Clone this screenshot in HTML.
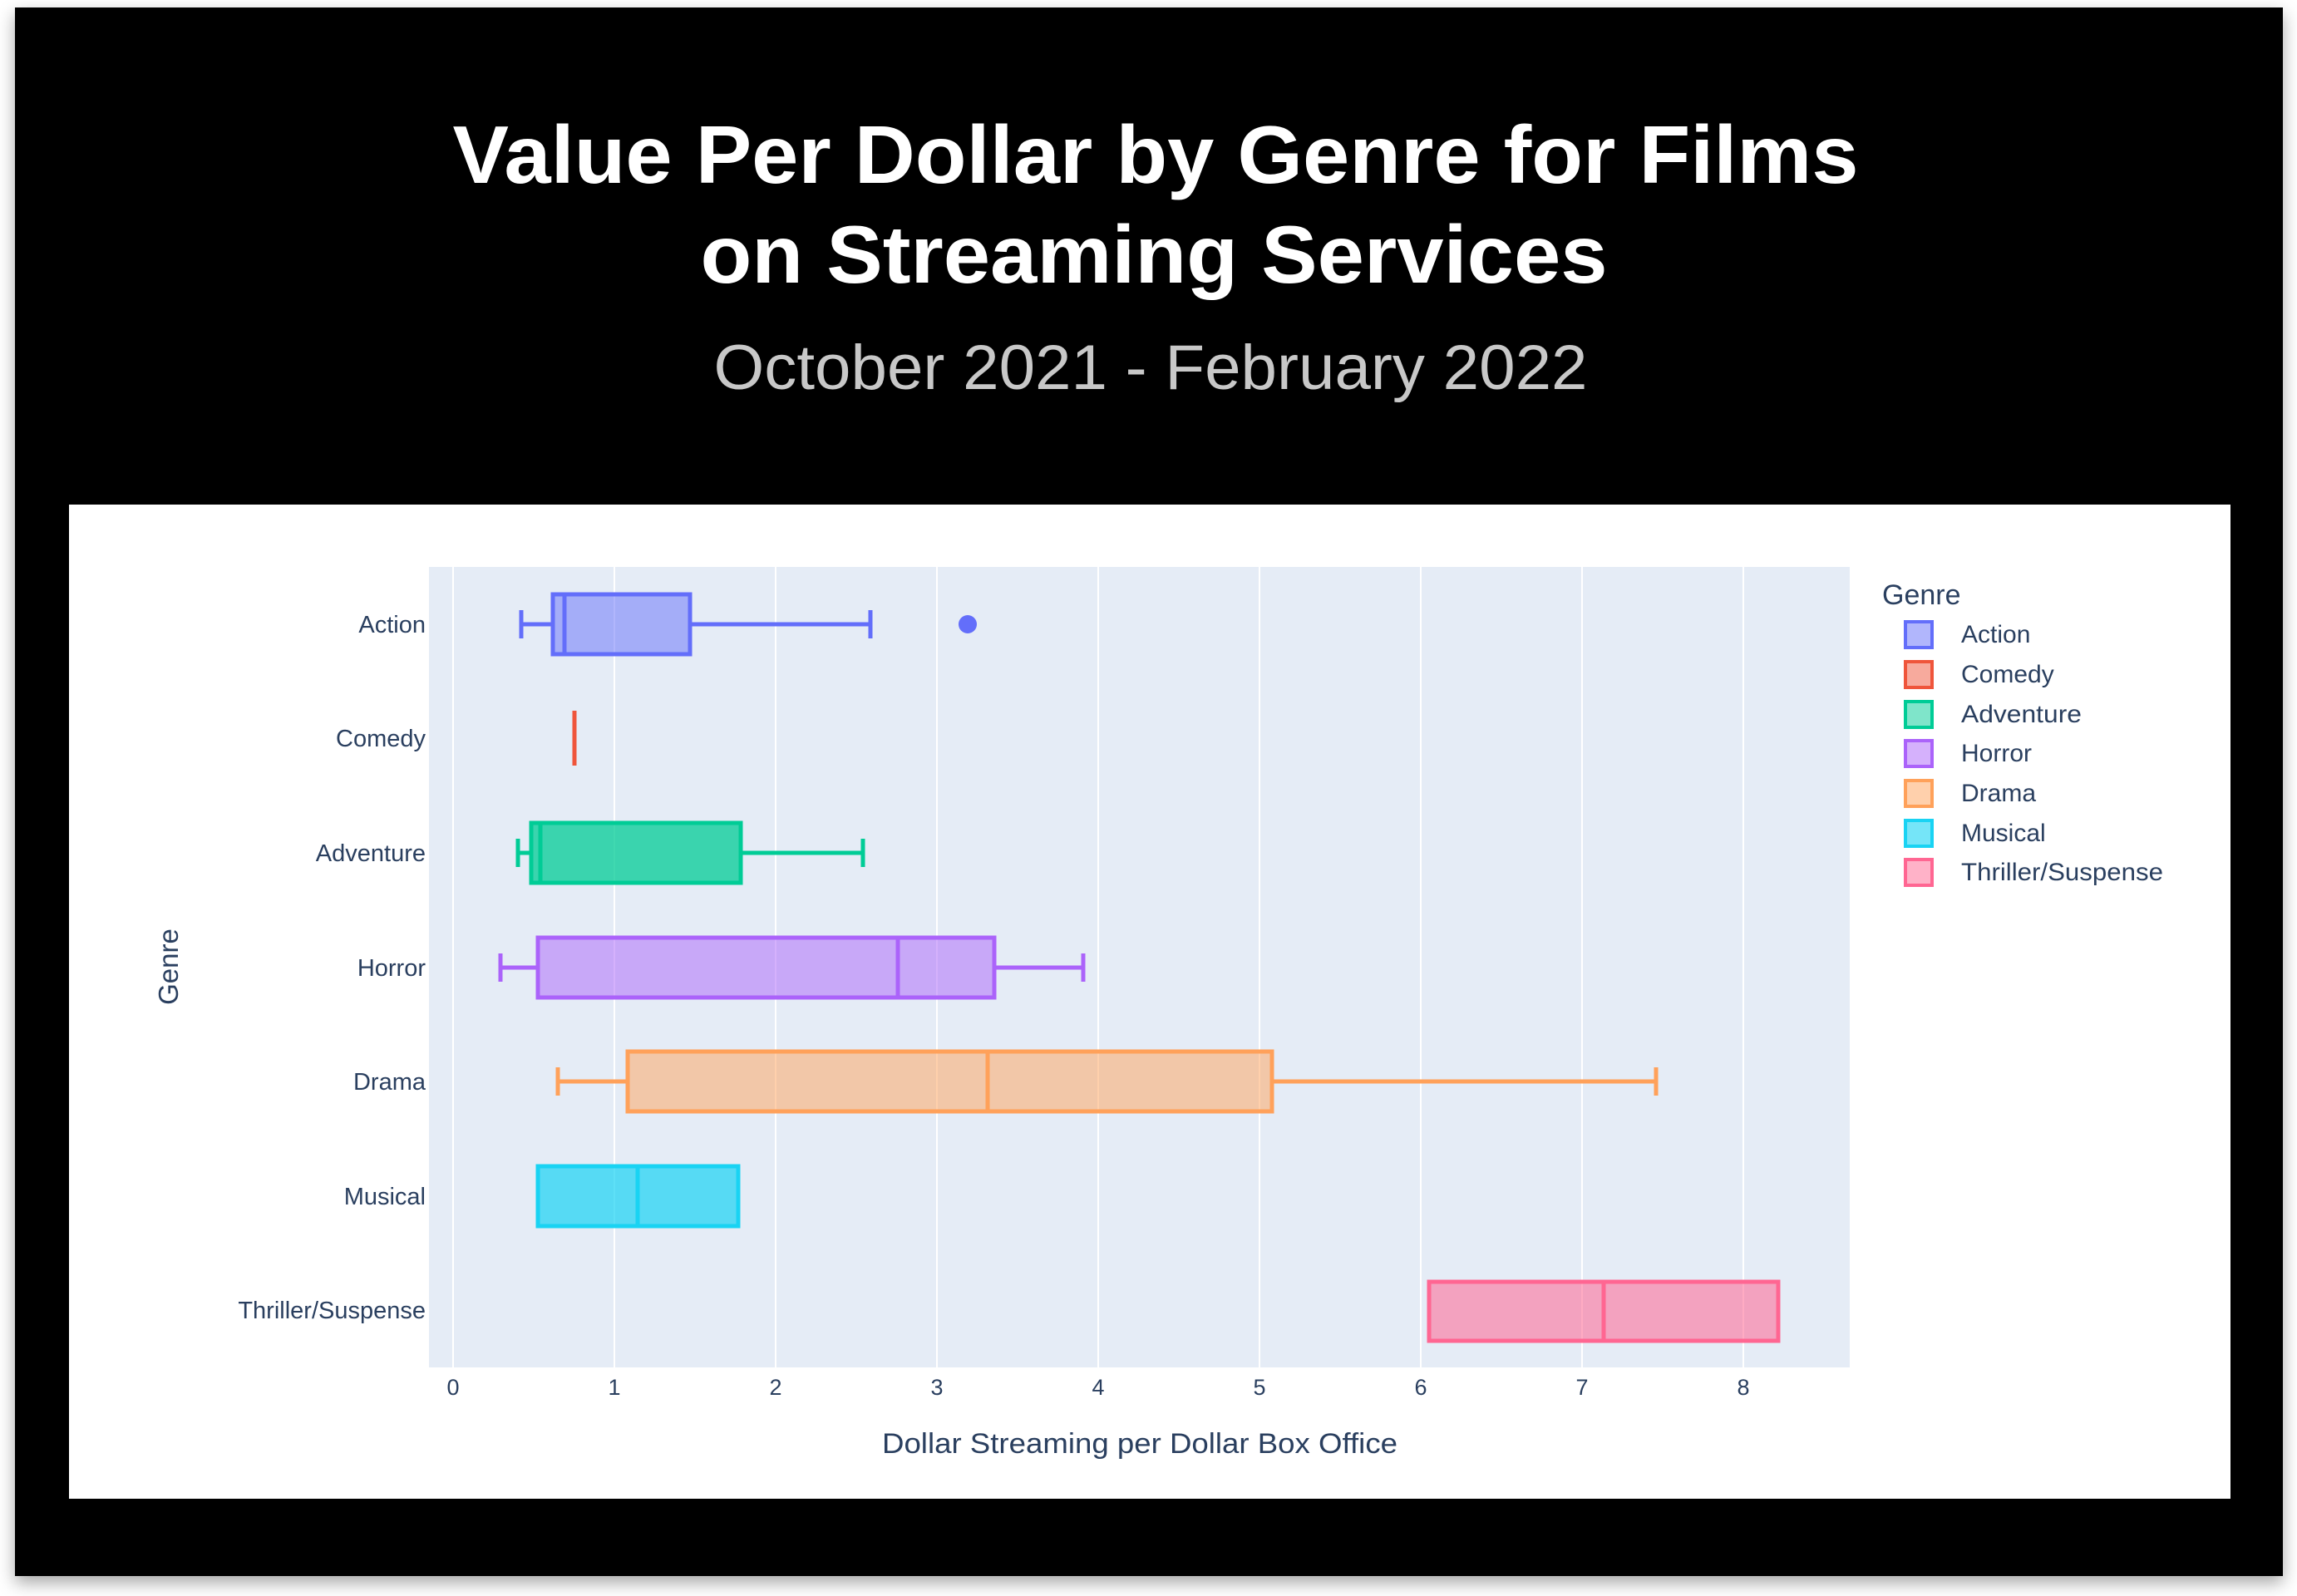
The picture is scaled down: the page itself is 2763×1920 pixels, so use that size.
<!DOCTYPE html>
<html><head><meta charset="utf-8"><style>
html,body{margin:0;padding:0;background:#fff;}
svg{display:block;}
</style></head><body>
<svg width="2763" height="1920" viewBox="0 0 2763 1920" xmlns="http://www.w3.org/2000/svg" font-family="'Liberation Sans', sans-serif">
<defs><filter id="sh" x="-5%" y="-5%" width="110%" height="110%"><feDropShadow dx="0" dy="8" stdDeviation="10" flood-color="#000" flood-opacity="0.35"/></filter></defs>
<rect x="18" y="9" width="2728" height="1887" fill="#000" filter="url(#sh)"/>
<text x="1390" y="220" fill="#fff" font-size="98" font-weight="bold" text-anchor="middle" textLength="1691" lengthAdjust="spacingAndGlyphs">Value Per Dollar by Genre for Films</text>
<text x="1388" y="340" fill="#fff" font-size="98" font-weight="bold" text-anchor="middle" textLength="1091" lengthAdjust="spacingAndGlyphs">on Streaming Services</text>
<text x="1384" y="468" fill="#c8c8c8" font-size="76" text-anchor="middle" textLength="1051" lengthAdjust="spacingAndGlyphs">October 2021 - February 2022</text>
<rect x="83" y="607" width="2600" height="1196" fill="#fff"/>
<rect x="516" y="682" width="1709" height="963" fill="#e5ecf6"/>
<g stroke="#fff" stroke-width="2">
<line x1="545" y1="682" x2="545" y2="1645"/><line x1="739" y1="682" x2="739" y2="1645"/><line x1="933" y1="682" x2="933" y2="1645"/><line x1="1127" y1="682" x2="1127" y2="1645"/><line x1="1321" y1="682" x2="1321" y2="1645"/><line x1="1515" y1="682" x2="1515" y2="1645"/><line x1="1709" y1="682" x2="1709" y2="1645"/><line x1="1903" y1="682" x2="1903" y2="1645"/><line x1="2097" y1="682" x2="2097" y2="1645"/>
</g>
<g stroke-width="5">
<g stroke="#636efa" fill="rgba(99,110,250,0.5)">
<line x1="627" y1="751" x2="665" y2="751"/><line x1="627" y1="734" x2="627" y2="768"/>
<line x1="830" y1="751" x2="1047" y2="751"/><line x1="1047" y1="734" x2="1047" y2="768"/>
<rect x="665" y="715" width="165" height="72"/>
<line x1="679" y1="715" x2="679" y2="787"/>
</g>
<circle cx="1164" cy="751" r="11" fill="#636efa"/>
<line x1="691" y1="855" x2="691" y2="921" stroke="#EF553B"/>
<g stroke="#00cc96" fill="rgba(0,204,150,0.75)">
<line x1="623" y1="1026" x2="639" y2="1026"/><line x1="623" y1="1009" x2="623" y2="1043"/>
<line x1="891" y1="1026" x2="1038" y2="1026"/><line x1="1038" y1="1009" x2="1038" y2="1043"/>
<rect x="639" y="990" width="252" height="72"/>
<line x1="650" y1="990" x2="650" y2="1062"/>
</g>
<g stroke="#ab63fa" fill="rgba(171,99,250,0.5)">
<line x1="602" y1="1164" x2="647" y2="1164"/><line x1="602" y1="1147" x2="602" y2="1181"/>
<line x1="1196" y1="1164" x2="1303" y2="1164"/><line x1="1303" y1="1147" x2="1303" y2="1181"/>
<rect x="647" y="1128" width="549" height="72"/>
<line x1="1080" y1="1128" x2="1080" y2="1200"/>
</g>
<g stroke="#FFA15A" fill="rgba(255,161,90,0.5)">
<line x1="671" y1="1301" x2="755" y2="1301"/><line x1="671" y1="1284" x2="671" y2="1318"/>
<line x1="1530" y1="1301" x2="1992" y2="1301"/><line x1="1992" y1="1284" x2="1992" y2="1318"/>
<rect x="755" y="1265" width="775" height="72"/>
<line x1="1188" y1="1265" x2="1188" y2="1337"/>
</g>
<g stroke="#19d3f3" fill="rgba(25,211,243,0.7)">
<rect x="647" y="1403" width="241" height="72"/>
<line x1="767" y1="1403" x2="767" y2="1475"/>
</g>
<g stroke="#FF6692" fill="rgba(255,102,146,0.55)">
<rect x="1719" y="1542" width="420" height="71"/>
<line x1="1929" y1="1542" x2="1929" y2="1613"/>
</g>
</g>
<g fill="#2a3f5f" font-size="29" text-anchor="end">
<text x="512" y="761">Action</text><text x="512" y="898">Comedy</text><text x="512" y="1036">Adventure</text><text x="512" y="1174">Horror</text><text x="512" y="1311">Drama</text><text x="512" y="1449">Musical</text><text x="512" y="1586">Thriller/Suspense</text>
</g>
<g fill="#2a3f5f" font-size="27" text-anchor="middle">
<text x="545" y="1678">0</text><text x="739" y="1678">1</text><text x="933" y="1678">2</text><text x="1127" y="1678">3</text><text x="1321" y="1678">4</text><text x="1515" y="1678">5</text><text x="1709" y="1678">6</text><text x="1903" y="1678">7</text><text x="2097" y="1678">8</text>
</g>
<text x="1371" y="1748" fill="#2a3f5f" font-size="34" text-anchor="middle" textLength="620" lengthAdjust="spacingAndGlyphs">Dollar Streaming per Dollar Box Office</text>
<text transform="translate(214,1163) rotate(-90)" fill="#2a3f5f" font-size="33" text-anchor="middle">Genre</text>
<text x="2264" y="727" fill="#2a3f5f" font-size="34">Genre</text>
<g stroke-width="4">
<rect x="2292" y="748" width="32" height="31" stroke="#636efa" fill="rgba(99,110,250,0.5)"/>
<rect x="2292" y="796" width="32" height="31" stroke="#EF553B" fill="rgba(239,85,59,0.5)"/>
<rect x="2292" y="844" width="32" height="31" stroke="#00cc96" fill="rgba(0,204,150,0.5)"/>
<rect x="2292" y="891" width="32" height="31" stroke="#ab63fa" fill="rgba(171,99,250,0.5)"/>
<rect x="2292" y="939" width="32" height="31" stroke="#FFA15A" fill="rgba(255,161,90,0.5)"/>
<rect x="2292" y="987" width="32" height="31" stroke="#19d3f3" fill="rgba(25,211,243,0.6)"/>
<rect x="2292" y="1034" width="32" height="31" stroke="#FF6692" fill="rgba(255,102,146,0.5)"/>
</g>
<g fill="#2a3f5f" font-size="30">
<text x="2359" y="773">Action</text><text x="2359" y="821">Comedy</text><text x="2359" y="869" textLength="145" lengthAdjust="spacingAndGlyphs">Adventure</text><text x="2359" y="916">Horror</text><text x="2359" y="964">Drama</text><text x="2359" y="1012">Musical</text><text x="2359" y="1059" textLength="243" lengthAdjust="spacingAndGlyphs">Thriller/Suspense</text>
</g>
</svg>
</body></html>
